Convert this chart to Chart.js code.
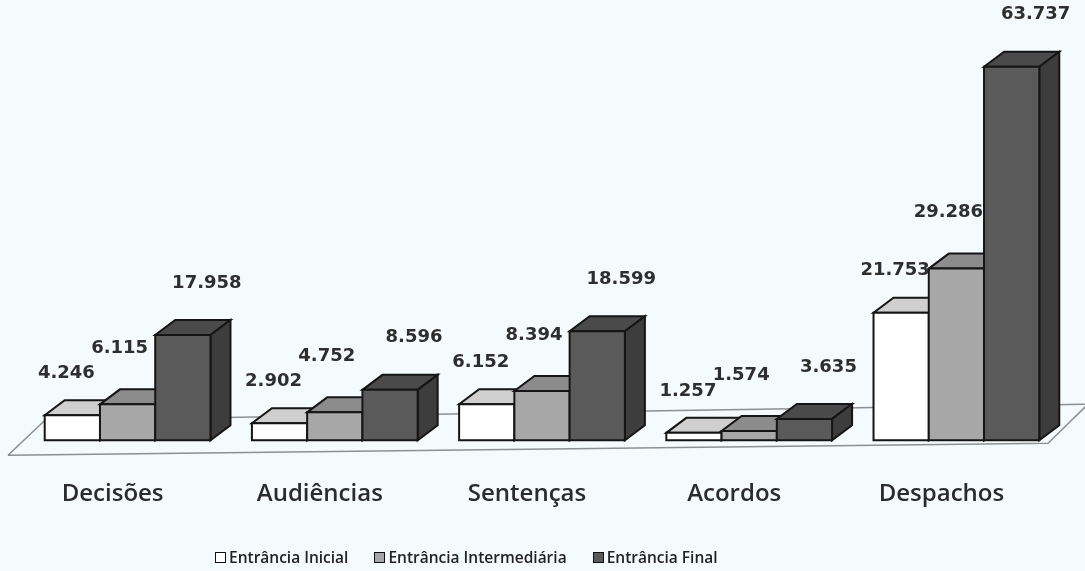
<!DOCTYPE html>
<html>
<head>
<meta charset="utf-8">
<script src="https://cdn.jsdelivr.net/npm/chart.js@4"></script>
<style>
  html, body { margin: 0; padding: 0; background: #f5fbfc; }
  #wrap { position: relative; width: 1085px; height: 571px; }
  #legend {
    position: absolute; left: 215px; top: 546px;
    display: flex; gap: 26px; align-items: center;
    font-family: "Open Sans", sans-serif; font-weight: 600; font-size: 15.5px; color: #222;
  }
  #legend span.item { display: flex; align-items: center; gap: 3px; }
  #legend span.box { width: 9px; height: 9px; border: 1.5px solid #111; display: inline-block; }
</style>
</head>
<body>
<div id="wrap">
  <canvas id="chart"></canvas>
  <div id="legend"></div>
</div>
<script>
// categories / series
var categorias = ['Decisões', 'Audiências', 'Sentenças', 'Acordos', 'Despachos'];
var entInicial = [4246, 2902, 6152, 1257, 21753];
var entIntermediaria = [6115, 4752, 8394, 1574, 29286];
var entFinal = [17958, 8596, 18599, 3635, 63737];
var nomesSeries = ['Entrância Inicial', 'Entrância Intermediária', 'Entrância Final'];

// cores: frente, topo, lateral
var faces = [
  { front: '#ffffff', top: '#cfcfcf', side: '#bdbdbd' },
  { front: '#a7a7a7', top: '#8c8c8c', side: '#7a7a7a' },
  { front: '#5a5a5a', top: '#4a4a4a', side: '#3d3d3d' }
];
// deslocamento dos rótulos em relação ao topo da barra
var labelShift = [
  { dx: -6, dy: -42 },
  { dx: -8, dy: -56 },
  { dx: 24, dy: -52 }
];
var DX = 20, DY = 15;

function fmt(v) {
  return v.toLocaleString('pt-BR');
}

function poly(ctx, pts, fill) {
  ctx.beginPath();
  ctx.moveTo(pts[0][0], pts[0][1]);
  for (var i = 1; i < pts.length; i++) ctx.lineTo(pts[i][0], pts[i][1]);
  ctx.closePath();
  ctx.fillStyle = fill;
  ctx.fill();
  ctx.stroke();
}

var bars3d = {
  id: 'bars3d',
  beforeDatasetsDraw: function (chart) {
    var ctx = chart.ctx;
    var area = chart.chartArea;
    var base = chart.scales.y.getPixelForValue(0);
    ctx.save();

    // ── piso
    ctx.strokeStyle = '#8d8f90';
    ctx.lineWidth = 1.5;
    ctx.beginPath();
    ctx.moveTo(area.left - 16, base + 15);
    ctx.lineTo(area.right - 12, base + 3);
    ctx.lineTo(area.right + 28, base - 36);
    ctx.moveTo(area.left - 16, base + 15);
    ctx.lineTo(area.left + 21, base - 20);
    ctx.lineTo(area.right + 28, base - 36);
    ctx.stroke();

    // ── barras 3D, categoria por categoria
    ctx.strokeStyle = '#151515';
    ctx.lineWidth = 2;
    ctx.lineJoin = 'miter';
    var n = chart.data.labels.length;
    for (var i = 0; i < n; i++) {
      for (var d = 0; d < chart.data.datasets.length; d++) {
        var bar = chart.getDatasetMeta(d).data[i];
        var p = bar.getProps(['x', 'y', 'base', 'width'], true);
        var l = p.x - p.width / 2, r = p.x + p.width / 2;
        var t = p.y, b = p.base;
        var f = faces[d];
        poly(ctx, [[l, t], [r, t], [r + DX, t - DY], [l + DX, t - DY]], f.top);
        poly(ctx, [[r, t], [r + DX, t - DY], [r + DX, b - DY], [r, b]], f.side);
        poly(ctx, [[l, t], [r, t], [r, b], [l, b]], f.front);
      }
    }

    // ── rótulos de valor
    ctx.fillStyle = '#2e2e2e';
    ctx.font = 'bold 18px "DejaVu Sans", sans-serif';
    ctx.textAlign = 'center';
    ctx.textBaseline = 'middle';
    chart.data.datasets.forEach(function (ds, d) {
      chart.getDatasetMeta(d).data.forEach(function (bar, i) {
        ctx.fillText(fmt(ds.data[i]), bar.x + labelShift[d].dx, bar.y + labelShift[d].dy);
      });
    });
    ctx.restore();
    return false;
  }
};

var series = [entInicial, entIntermediaria, entFinal];
var chart = new Chart(document.getElementById('chart'), {
  type: 'bar',
  data: {
    labels: categorias,
    datasets: series.map(function (s, k) {
      return {
        label: nomesSeries[k],
        data: s,
        backgroundColor: faces[k].front,
        borderColor: '#111',
        borderWidth: 2,
        categoryPercentage: 0.8,
        barPercentage: 1.0
      };
    })
  },
  options: {
    responsive: true,
    maintainAspectRatio: false,
    animation: false,
    layout: { padding: { left: 24, right: 25, top: 30, bottom: 22 } },
    plugins: {
      legend: { display: false },
      tooltip: { enabled: false }
    },
    scales: {
      x: {
        grid: { display: false, drawTicks: false },
        border: { display: false },
        ticks: {
          padding: 40,
          labelOffset: -15,
          color: '#2b2b2b',
          font: { family: '"Open Sans", sans-serif', size: 24, weight: '600' }
        }
      },
      y: {
        display: false,
        min: 0,
        max: 70000
      }
    }
  },
  plugins: [bars3d]
});

// legenda
var leg = document.getElementById('legend');
nomesSeries.forEach(function (nome, k) {
  var it = document.createElement('span');
  it.className = 'item';
  it.innerHTML = '<span class="box" style="background:' + faces[k].front + '"></span>' + nome;
  leg.appendChild(it);
});
</script>
</body>
</html>
